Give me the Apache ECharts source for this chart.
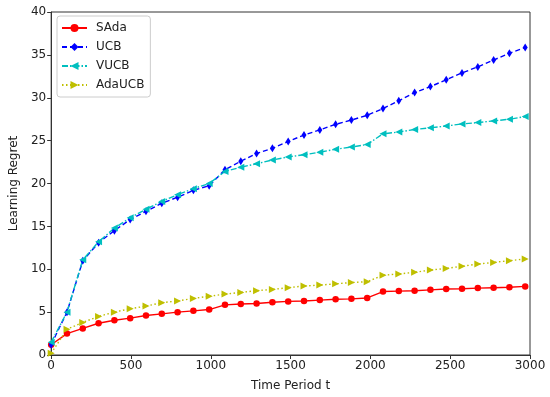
<!DOCTYPE html>
<html>
<head>
<meta charset="utf-8">
<script src="https://cdn.jsdelivr.net/npm/echarts@6/dist/echarts.min.js"></script>
<style>
html,body{margin:0;padding:0;background:#fff;}
#chart{width:550px;height:397px;}
</style>
</head>
<body>
<div id="chart"></div>
<script>
const timePeriods = [0, 99, 198, 297, 396, 495, 594, 693, 792, 891, 990, 1089, 1188, 1287, 1386, 1485, 1584, 1683, 1782, 1881, 1980, 2079, 2178, 2277, 2376, 2475, 2574, 2673, 2772, 2871, 2970];
const sada = [1.2, 2.5, 3.1, 3.7, 4.05, 4.3, 4.6, 4.8, 5.0, 5.15, 5.3, 5.85, 5.95, 6.0, 6.15, 6.25, 6.3, 6.4, 6.5, 6.55, 6.65, 7.4, 7.45, 7.5, 7.6, 7.7, 7.72, 7.8, 7.85, 7.9, 8.0];
const ucb = [1.2, 5.0, 11.0, 13.1, 14.5, 15.8, 16.75, 17.7, 18.4, 19.2, 19.75, 21.6, 22.6, 23.5, 24.1, 24.9, 25.65, 26.25, 26.9, 27.4, 27.95, 28.75, 29.65, 30.6, 31.3, 32.1, 32.9, 33.6, 34.4, 35.2, 35.85];
const vucb = [1.5, 5.0, 11.1, 13.2, 14.8, 16.0, 17.0, 17.9, 18.7, 19.4, 20.0, 21.4, 21.9, 22.3, 22.75, 23.1, 23.35, 23.65, 24.0, 24.25, 24.55, 25.8, 26.0, 26.3, 26.5, 26.7, 26.95, 27.1, 27.3, 27.5, 27.8];
const adaucb = [0.2, 3.0, 3.8, 4.5, 5.0, 5.4, 5.7, 6.1, 6.3, 6.6, 6.85, 7.1, 7.3, 7.5, 7.65, 7.85, 8.05, 8.15, 8.3, 8.45, 8.55, 9.3, 9.45, 9.65, 9.9, 10.1, 10.35, 10.6, 10.8, 11.0, 11.2];
const xTicks = [0, 500, 1000, 1500, 2000, 2500, 3000];
const yTicks = [0, 5, 10, 15, 20, 25, 30, 35, 40];

function pairs(vals){ return timePeriods.map((t,i)=>[t, vals[i]]); }

const font = 'DejaVu Sans';
const chart = echarts.init(document.getElementById('chart'), null, {renderer:'canvas'});
chart.setOption({
  animation: false,
  backgroundColor: '#fff',
  grid: {left: 50, right: 20, top: 12, bottom: 42, show: true, borderColor: '#333', borderWidth: 1},
  legend: {
    orient: 'vertical', left: 57, top: 16,
    itemWidth: 25, itemHeight: 10, itemGap: 7,
    padding: [6, 6, 6, 4],
    borderColor: '#ccc', borderWidth: 1, borderRadius: 3,
    backgroundColor: 'rgba(255,255,255,0.8)',
    textStyle: {fontFamily: font, fontSize: 12, color: '#222', padding: [0,0,0,4]},
    data: ['SAda', 'UCB', 'VUCB', 'AdaUCB']
  },
  xAxis: {
    type: 'value', min: xTicks[0], max: xTicks[xTicks.length-1], interval: 500,
    name: 'Time Period t', nameLocation: 'middle', nameGap: 25,
    nameTextStyle: {fontFamily: font, fontSize: 12, color: '#222'},
    axisLine: {show: true, lineStyle: {color: '#333', width: 1}},
    axisTick: {show: true, inside: false, length: 4, lineStyle: {color: '#333'}},
    axisLabel: {fontFamily: font, fontSize: 12, color: '#222', margin: 5, formatter: v => String(v)},
    splitLine: {show: false}
  },
  yAxis: {
    type: 'value', min: yTicks[0], max: yTicks[yTicks.length-1], interval: 5,
    name: 'Learning Regret', nameLocation: 'middle', nameGap: 31,
    nameTextStyle: {fontFamily: font, fontSize: 12, color: '#222'},
    axisLine: {show: true, lineStyle: {color: '#333', width: 1}},
    axisTick: {show: true, inside: false, length: 4, lineStyle: {color: '#333'}},
    axisLabel: {fontFamily: font, fontSize: 12, color: '#222', margin: 5, formatter: v => String(v)},
    splitLine: {show: false}
  },
  series: [
    {name: 'SAda', type: 'line', data: pairs(sada), color: '#ff0000',
     symbol: 'circle', symbolSize: 6.5, showAllSymbol: true,
     lineStyle: {width: 1.4, type: 'solid', color: '#ff0000'},
     itemStyle: {color: '#ff0000'}},
    {name: 'UCB', type: 'line', data: pairs(ucb), color: '#0000ff',
     symbol: 'diamond', symbolSize: [5, 8], showAllSymbol: true,
     lineStyle: {width: 1.4, type: [5, 3], color: '#0000ff'},
     itemStyle: {color: '#0000ff'}},
    {name: 'VUCB', type: 'line', data: pairs(vucb), color: '#00bfbf',
     symbol: 'triangle', symbolRotate: 90, symbolSize: 7, showAllSymbol: true,
     lineStyle: {width: 1.4, type: [6, 2, 1.5, 2], color: '#00bfbf'},
     itemStyle: {color: '#00bfbf'}},
    {name: 'AdaUCB', type: 'line', data: pairs(adaucb), color: '#bfbf00',
     symbol: 'triangle', symbolRotate: -90, symbolSize: 7, showAllSymbol: true,
     lineStyle: {width: 1.4, type: [1.5, 2.5], color: '#bfbf00'},
     itemStyle: {color: '#bfbf00'}}
  ]
});
</script>
</body>
</html>
